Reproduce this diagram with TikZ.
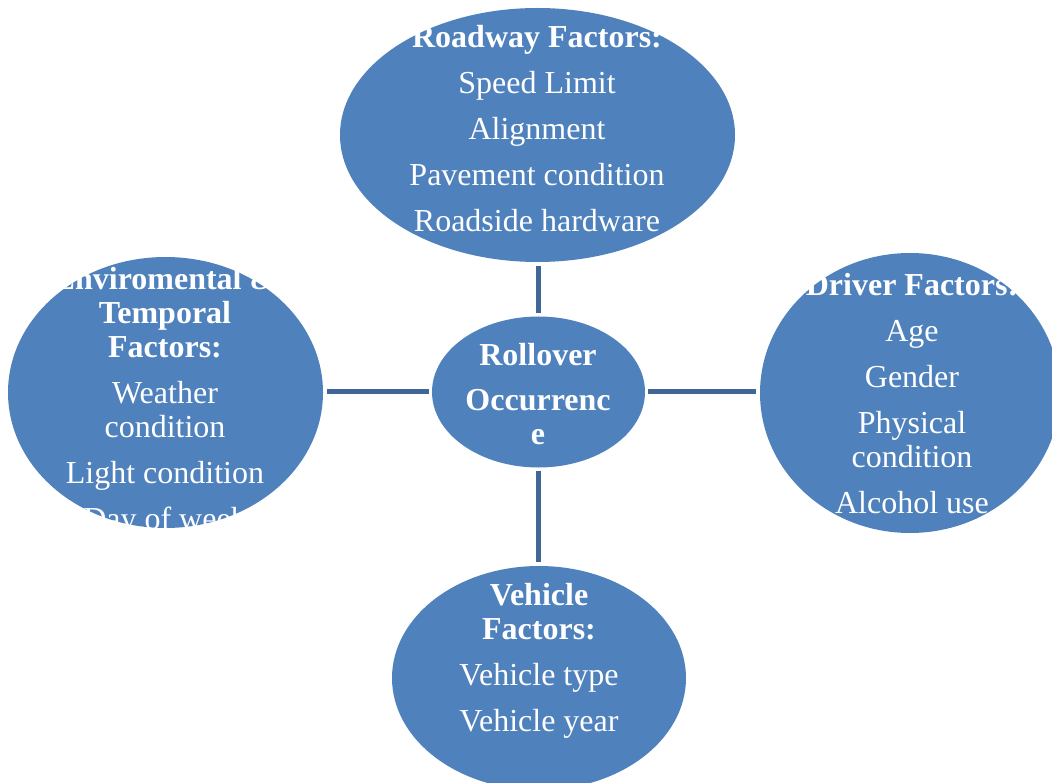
\documentclass[tikz,border=0pt]{standalone}
\usepackage{fontspec}
\setmainfont{Liberation Serif}
\usetikzlibrary{shapes.geometric}
\definecolor{bubble}{HTML}{4F81BD}
\definecolor{link}{HTML}{3F6696}
\tikzset{
  bubble/.style={ellipse, fill=bubble, draw=none, inner sep=0pt},
  btext/.style={text=white, align=center, inner sep=0pt, font=\fontsize{32}{34}\selectfont},
  linkline/.style={draw=link, line width=5pt, shorten <=3pt, shorten >=4pt}
}
\begin{document}
\begin{tikzpicture}[x=1pt,y=-1pt]
\useasboundingbox (0,0) rectangle (1052,783);
\begin{scope}
\clip (0,0) rectangle (1052,783);
% ellipses
\node[bubble, minimum width=395pt, minimum height=254pt] (top) at (537.5,135) {};
\node[bubble, minimum width=315pt, minimum height=271pt] (left) at (165.5,392.5) {};
\node[bubble, minimum width=300pt, minimum height=280pt] (right) at (910,393) {};
\node[bubble, minimum width=294pt, minimum height=224pt] (bottom) at (539,678) {};
\node[bubble, minimum width=213pt, minimum height=151pt] (center) at (538.5,392) {};
% connectors
\draw[linkline] (center.north) -- (center.north |- top.south);
\draw[linkline] (center.west) -- (center.west -| left.east);
\draw[linkline] (center.east) -- (center.east -| right.west);
\draw[linkline] (center.south) -- (center.south |- bottom.north);
% texts
\node[btext] (topT) at (537,129) {\textbf{Roadway Factors:}\\[12pt]Speed Limit\\[12pt]Alignment\\[12pt]Pavement condition\\[12pt]Roadside hardware};
\node[btext] (leftT) at (165,402) {\textbf{Enviromental \&}\\\textbf{Temporal}\\\textbf{Factors:}\\[12pt]Weather\\condition\\[12pt]Light condition\\[12pt]Day of week};
\node[btext] (centerT) at (538,394) {\textbf{Rollover}\\[11pt]\textbf{Occurrenc}\\\textbf{e}};
\node[btext] (rightT) at (912,394) {\textbf{Driver Factors:}\\[12pt]Age\\[12pt]Gender\\[12pt]Physical\\condition\\[12pt]Alcohol use};
\node[btext] (bottomT) at (539,661) {\textbf{Vehicle}\\\textbf{Factors:}\\[12pt]Vehicle type\\[12pt]Vehicle year};
\end{scope}
\end{tikzpicture}
\end{document}
